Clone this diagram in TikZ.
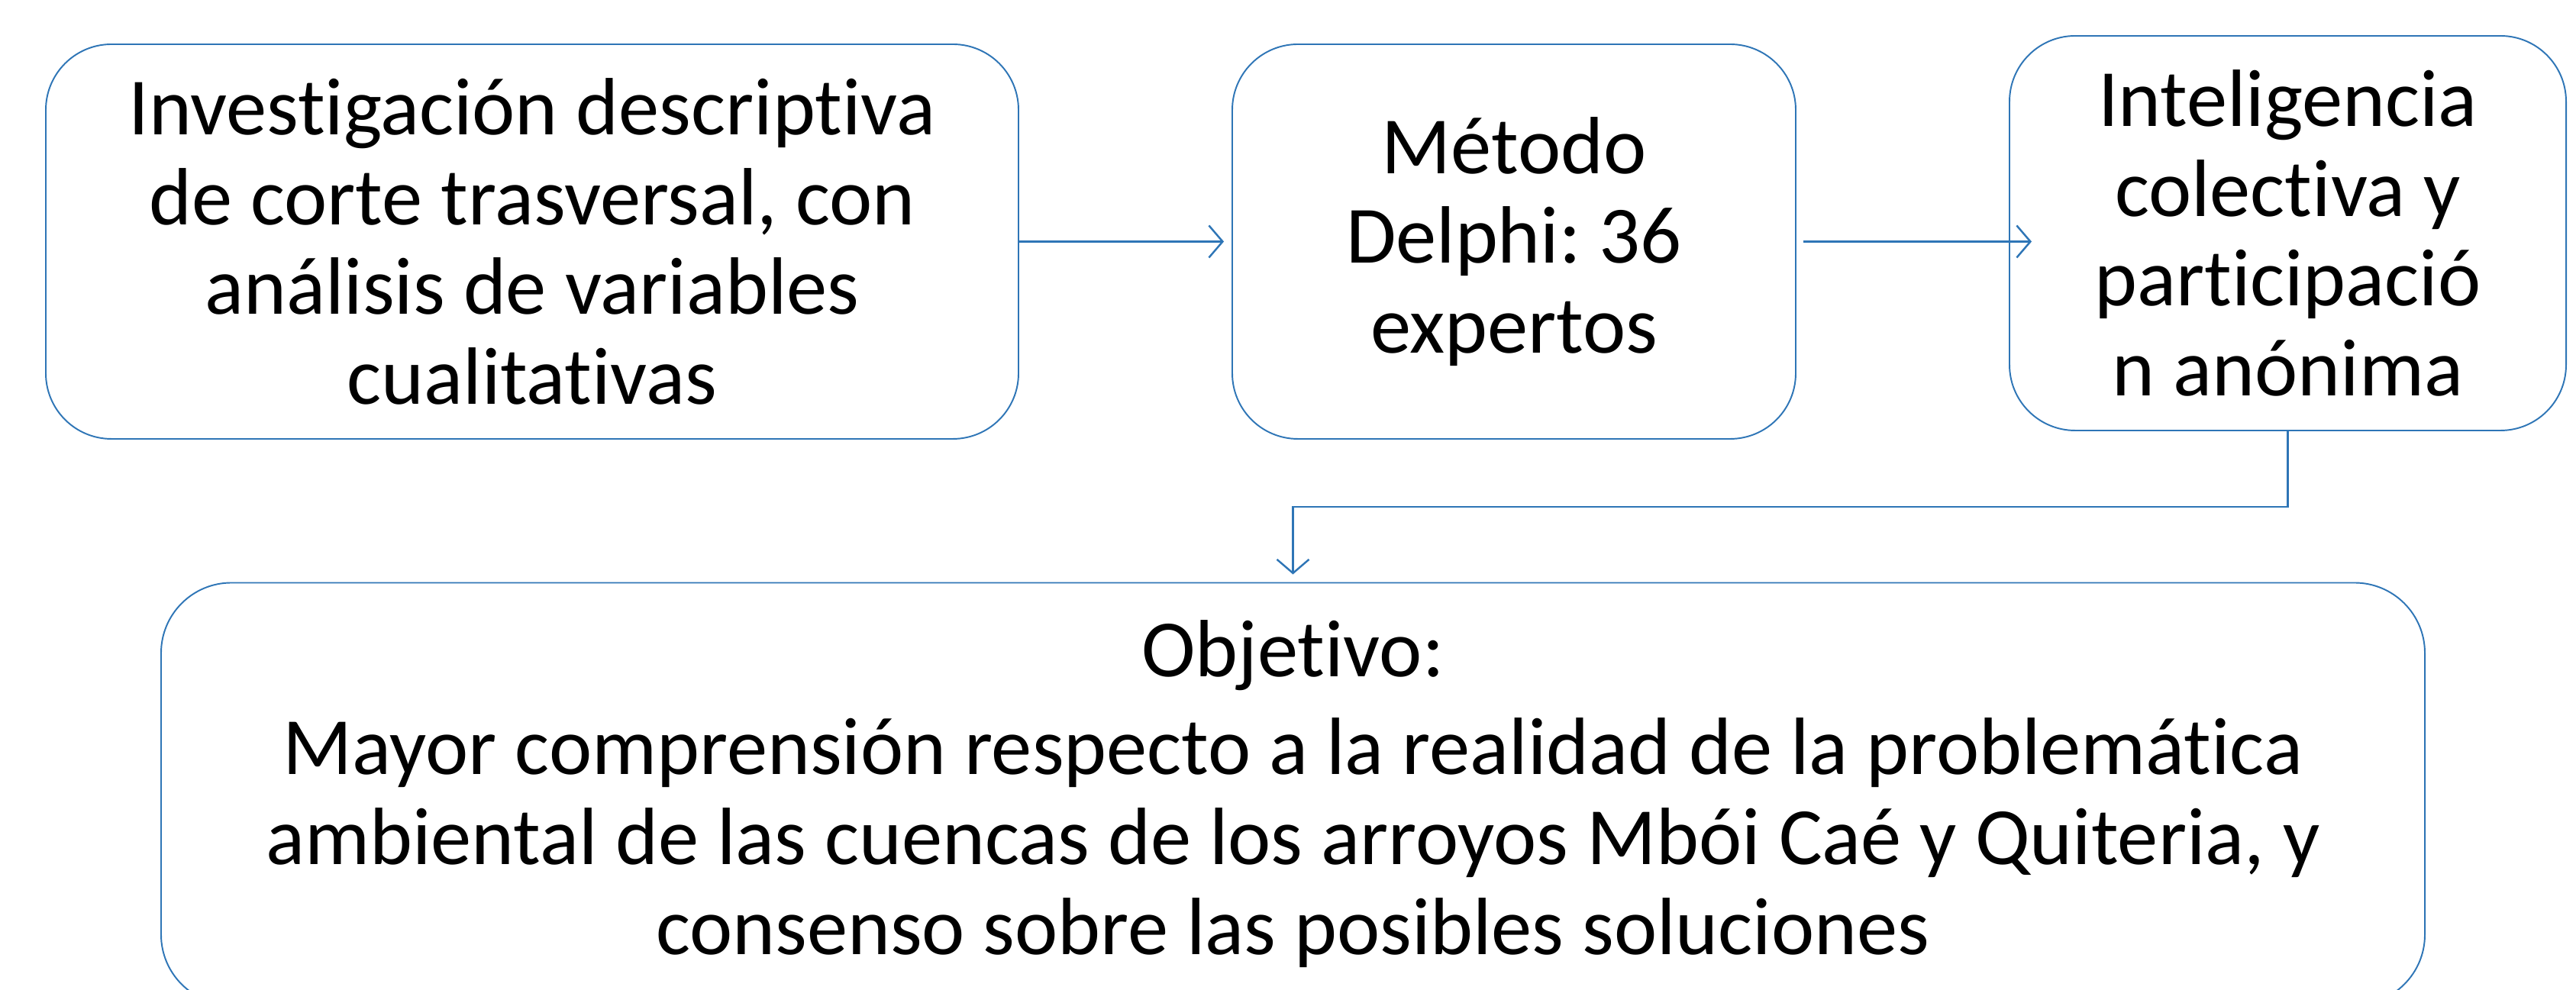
\documentclass[tikz,border=0pt]{standalone}
\usepackage{fontspec}
\setmainfont{Carlito}[RawFeature={-liga;-clig;-calt;-dlig}]
\usetikzlibrary{arrows.meta}
\definecolor{boxblue}{HTML}{2E75B6}
\frenchspacing
\begin{document}
\begin{tikzpicture}
\tikzset{ >={Straight Barb[length=1.8mm,width=4.2mm]},
  stepbox/.style={draw=boxblue, line width=0.55pt, rounded corners=0.86cm, align=center,
    inner sep=0pt, font=\fontsize{30.3}{33.5}\selectfont},
  arr/.style={->, draw=boxblue, line width=0.7pt},
}
\useasboundingbox (0,0) rectangle (33.74,12.97);

%\draw [lightgray, dashed](0,0) grid (34,13);

\node [stepbox, minimum width=12.74cm, minimum height=5.17cm] (B1) at (6.97,9.805)
  {Investigación descriptiva\\ de corte trasversal, con\\ análisis de variables\\ cualitativas};
\node [stepbox, minimum width=7.38cm, minimum height=5.17cm] (B2) at (19.83,9.805)
  {Método\\ Delphi: 36\\ expertos};
\node [stepbox, minimum width=7.29cm, minimum height=5.17cm] (B3) at (29.965,9.915)
  {Inteligencia\\ colectiva y\\ participació\\ n anónima};
\node [stepbox, rounded corners=0.92cm, minimum width=29.65cm, minimum height=5.53cm] (B4) at (16.935,2.57)
  {Objetivo:\\[3pt] Mayor comprensión respecto a la realidad de la problemática\\ ambiental de las cuencas de los arroyos Mbói Caé y Quiteria, y\\ consenso sobre las posibles soluciones};

\draw [arr, shorten >=0.1cm] (B1.east) -- (B2.west |- B1.east);
\draw [arr] ([xshift=0.09cm]B2.east) -- ([xshift=0.3cm]B2.east -| B3.west);
\draw [arr, shorten >=0.1cm] (B3.south) -- ++(0,-0.99) -| (B4.north);
\end{tikzpicture}
\end{document}
